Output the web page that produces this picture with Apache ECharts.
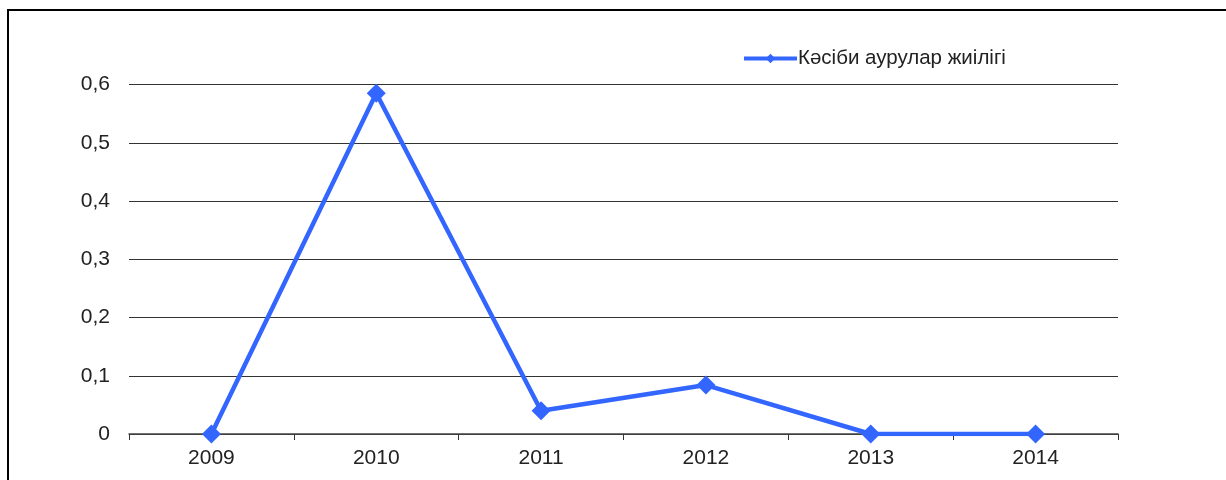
<!DOCTYPE html>
<html>
<head>
<meta charset="utf-8">
<script src="https://cdn.jsdelivr.net/npm/echarts@6/dist/echarts.min.js"></script>
<style>
html,body{margin:0;padding:0;background:#fff;}
#c{width:1226px;height:480px;}
</style>
</head>
<body>
<div id="c"></div>
<script>
const categories = ['2009', '2010', '2011', '2012', '2013', '2014'];
const seriesName = 'Кәсіби аурулар жиілігі';
const values = [0, 0.585, 0.04, 0.084, 0, 0];
const yTicks = { min: 0, max: 0.6, interval: 0.1 };

const chart = echarts.init(document.getElementById('c'), null, { renderer: 'canvas' });
const FONT = 'Liberation Sans, Arial, sans-serif';
chart.setOption({
  animation: false,
  backgroundColor: '#fff',
  graphic: [{
    type: 'rect',
    shape: { x: 8, y: 10, width: 1300, height: 600 },
    style: { fill: 'none', stroke: '#000', lineWidth: 2 },
    silent: true
  }],
  legend: {
    left: 737, top: 43,
    itemWidth: 53, itemHeight: 12, itemGap: 4,
    lineStyle: { width: 4 },
    textStyle: { fontFamily: FONT, fontSize: 20.5, color: '#222', padding: [0,0,0,-4] },
    data: [{ name: seriesName }]
  },
  grid: { left: 129, right: 108, top: 84.5, bottom: 46, containLabel: false },
  xAxis: {
    type: 'category',
    data: categories,
    boundaryGap: true,
    axisLine: { lineStyle: { color: '#444', width: 1.5 } },
    axisTick: { show: true, length: 6, alignWithLabel: false, lineStyle: { color: '#333' } },
    axisLabel: { fontFamily: FONT, fontSize: 21, color: '#222', margin: 14 },
    splitLine: { show: false }
  },
  yAxis: {
    type: 'value',
    min: yTicks.min, max: yTicks.max, interval: yTicks.interval,
    axisLine: { show: false },
    axisTick: { show: false },
    axisLabel: {
      fontFamily: FONT, fontSize: 21, color: '#222', margin: 19,
      formatter: v => v === 0 ? '0' : v.toFixed(1).replace('.', ',')
    },
    splitLine: { lineStyle: { color: '#333', width: 1.2 } }
  },
  series: [{
    name: seriesName,
    type: 'line',
    data: values,
    symbol: 'diamond',
    symbolSize: 19,
    lineStyle: { color: '#3366ff', width: 4.5 },
    itemStyle: { color: '#3366ff' }
  }]
});
</script>
</body>
</html>
